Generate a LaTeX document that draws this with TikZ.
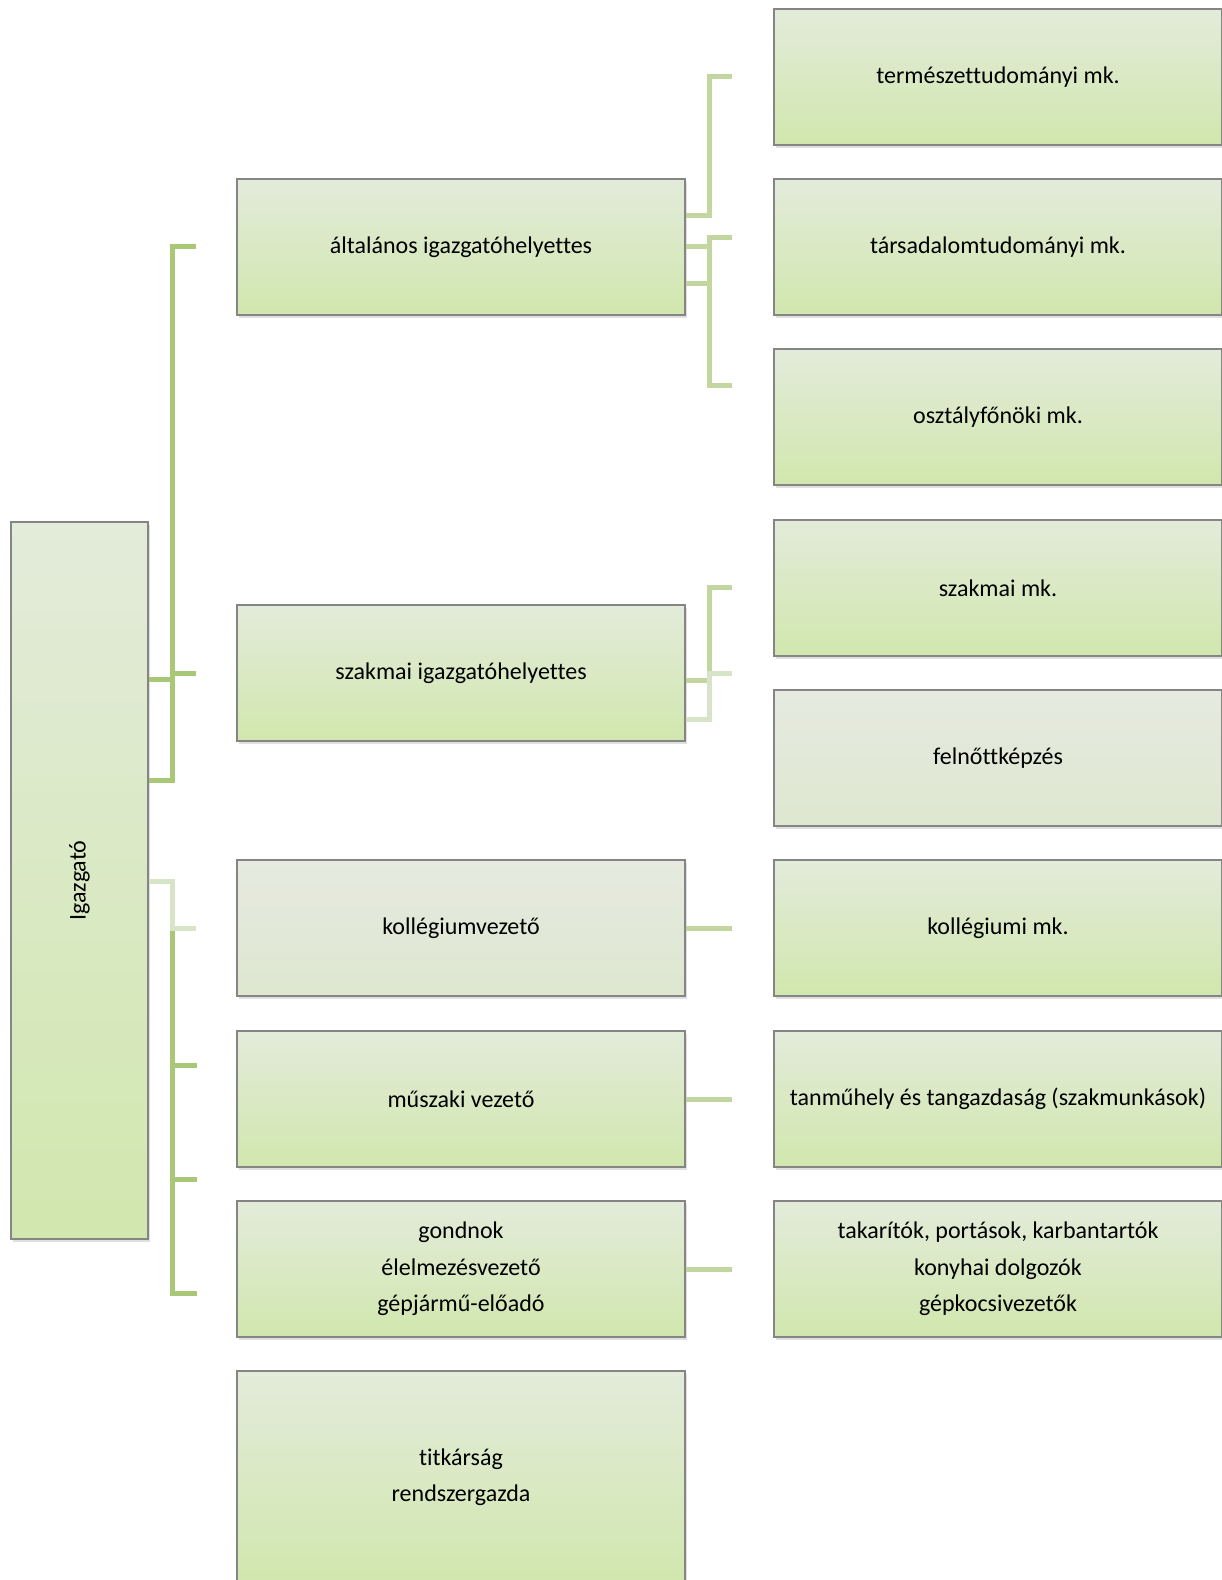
\documentclass[tikz,border=0pt]{standalone}
\usepackage{fontspec}
\setmainfont[Ligatures=CommonOff]{Carlito}
\usetikzlibrary{shadows}
\definecolor{boxtop}{HTML}{E3EBDA}
\definecolor{boxbot}{HTML}{D1E7AE}
\definecolor{palet}{HTML}{E6EAE0}
\definecolor{paleb}{HTML}{DEE7D0}
\definecolor{edge}{HTML}{858585}
\definecolor{linka}{HTML}{A8C878}
\definecolor{linkb}{HTML}{C3D6A0}
\definecolor{linkc}{HTML}{D8E4C8}
\begin{document}
\begin{tikzpicture}[x=1pt,y=-1pt,
        box/.style={draw=edge,line width=1.2pt,rectangle,top color=boxtop,bottom color=boxbot,
          minimum width=448pt,minimum height=136pt,align=center,inner sep=2pt,
          drop shadow={opacity=0.25,shadow xshift=1.5pt,shadow yshift=-2.5pt},
          font=\fontsize{24}{36.3}\selectfont},
        pale/.style={box,top color=palet,bottom color=paleb},
        linkA/.style={draw=linka,line width=5pt},
        linkB/.style={draw=linkb,line width=5pt},
        linkC/.style={draw=linkc,line width=5pt}
      ]
      \useasboundingbox (0,0) rectangle (1222,1580);
      % director
      \node[box,minimum width=137pt,minimum height=717pt,
        label={[rotate=90,font=\fontsize{24}{28}\selectfont]center:Igazgató}] (igazgato) at (79.5,880.5) {};
      % middle column
      \node[box] (altalanos) at (461,247) {általános igazgatóhelyettes};
      \node[box] (szakmai) at (461,673) {szakmai igazgatóhelyettes};
      \node[pale] (kollvez) at (461,928) {kollégiumvezető};
      \node[box] (muszaki) at (461,1099) {műszaki vezető};
      \node[box] (gondnok) at (461,1269) {gondnok\\élelmezésvezető\\gépjármű-előadó};
      \node[box,minimum height=212pt] (titkar) at (461,1477) {titkárság\\rendszergazda};
      % right column
      \node[box] (termtud) at (998,77) {természettudományi mk.};
      \node[box] (tarstud) at (998,247) {társadalomtudományi mk.};
      \node[box] (osztfon) at (998,417) {osztályfőnöki mk.};
      \node[box] (szakmk) at (998,588) {szakmai mk.};
      \node[pale] (felnott) at (998,758) {felnőttképzés};
      \node[box] (kollmk) at (998,928) {kollégiumi mk.};
      \node[box] (tanmuh) at (998,1099) {tanműhely és tangazdaság (szakmunkások)};
      \node[box] (takarit) at (998,1269) {takarítók, portások, karbantartók\\konyhai dolgozók\\gépkocsivezetők};
      % links from the director
      \draw[linkA] (igazgato.east |- 0,679) -- (172,679) -- (172,246) -- ([xshift=-40pt]altalanos.west |- 0,246);
      \draw[linkA] (igazgato.east |- 0,780) -- (172,780) -- (172,673) -- ([xshift=-40pt]szakmai.west);
      \draw[linkA] (igazgato.east |- 0,881) -- (172,881) -- (172,1293) -- (197,1293);
      \draw[linkA] (172,1065) -- (197,1065);
      \draw[linkA] (172,1179) -- (197,1179);
      \draw[linkC] (igazgato.east |- 0,881) -- (172,881) -- (172,928) -- ([xshift=-40pt]kollvez.west);
      % links to the working groups
      \draw[linkB] (altalanos.east |- 0,215) -- (709,215) -- (709,76) -- ([xshift=-41pt]termtud.west |- 0,76);
      \draw[linkB] (altalanos.east |- 0,246) -- (709,246);
      \draw[linkB] (altalanos.east |- 0,283) -- (709,283);
      \draw[linkB] ([xshift=-41pt]tarstud.west |- 0,237) -- (709,237) -- (709,385) -- ([xshift=-41pt]osztfon.west |- 0,385);
      \draw[linkB] (szakmai.east |- 0,680) -- (709,680) -- (709,587) -- ([xshift=-41pt]szakmk.west |- 0,587);
      \draw[linkC] (szakmai.east |- 0,719) -- (709,719) -- (709,673) -- ([xshift=-41pt]felnott.west |- 0,673);
      \draw[linkB] (kollvez.east) -- ([xshift=-41pt]kollmk.west);
      \draw[linkB] (muszaki.east) -- ([xshift=-41pt]tanmuh.west);
      \draw[linkB] (gondnok.east) -- ([xshift=-41pt]takarit.west);
    \end{tikzpicture}
\end{document}
